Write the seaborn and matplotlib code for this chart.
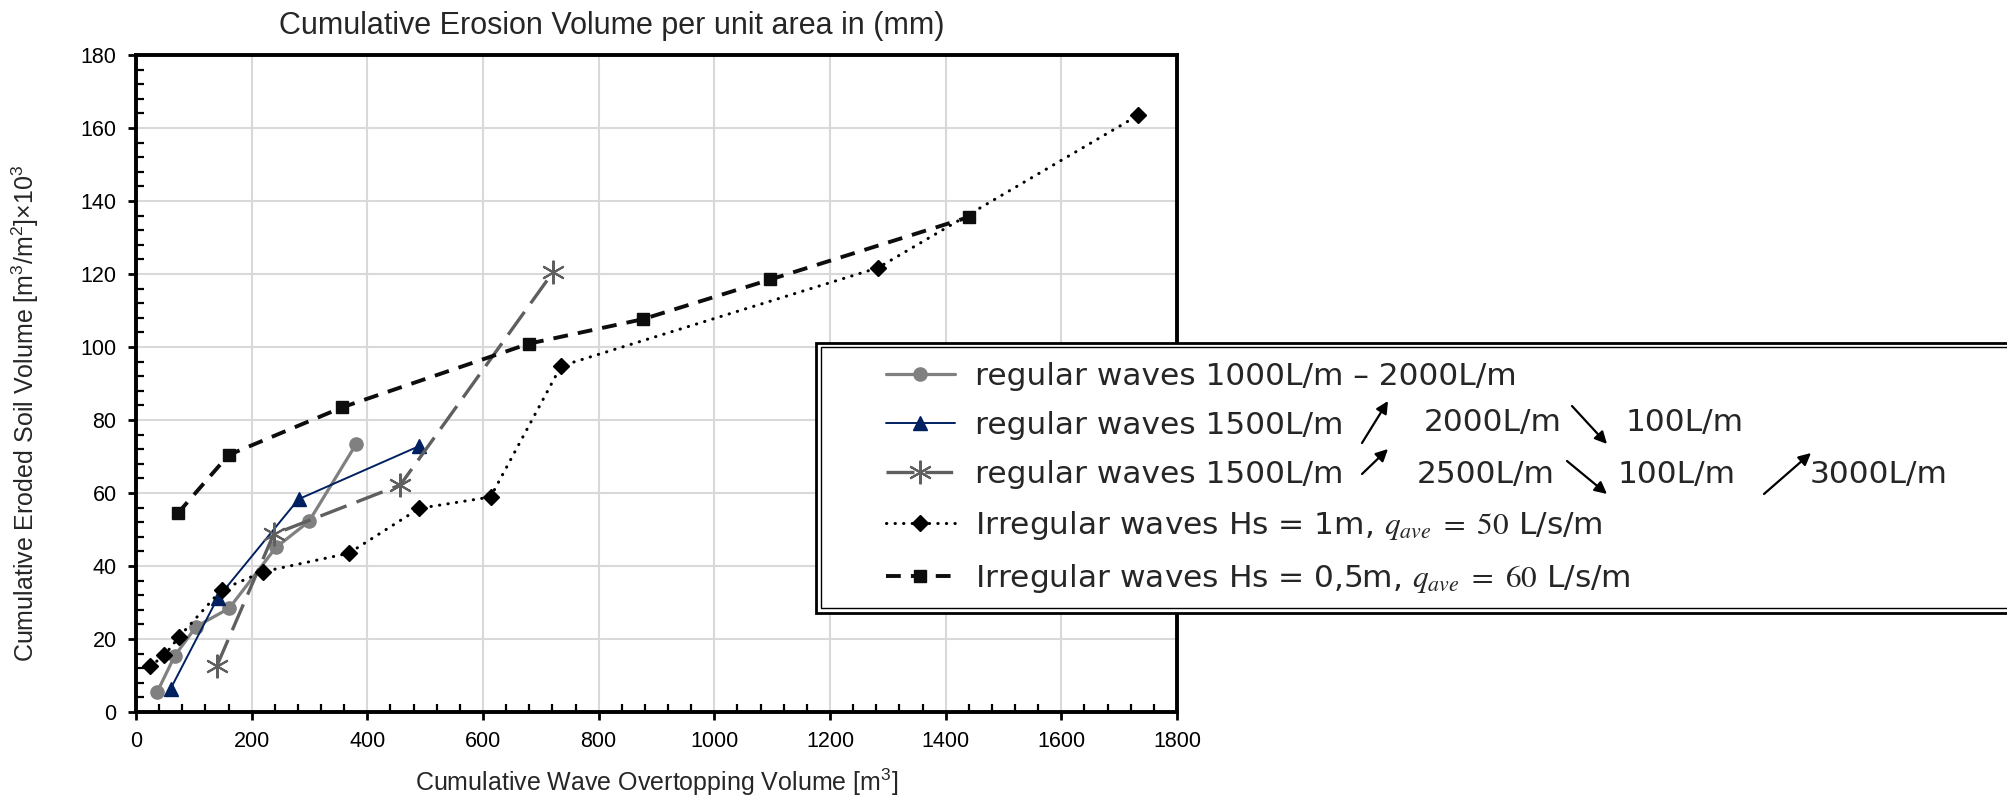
import matplotlib
matplotlib.use("Agg")
import matplotlib.pyplot as plt
import seaborn as sns
import pandas as pd
from matplotlib.patches import Rectangle, FancyArrowPatch
from matplotlib.ticker import MultipleLocator

# ---------------- data ----------------
reg1_x = [37, 67, 104, 161, 242, 299, 381]
reg1_y = [5.6, 15.4, 23.4, 28.4, 45.1, 52.2, 73.5]

reg2_x = [60, 141, 281, 489]
reg2_y = [6.4, 31.2, 58.3, 72.8]

reg3_x = [140, 238, 457, 721]
reg3_y = [12.7, 48.7, 62.2, 120.5]

irr1_x = [24, 49, 74, 148, 219, 368, 490, 613, 735, 1283, 1733]
irr1_y = [12.5, 15.5, 20.5, 33.5, 38.4, 43.5, 55.8, 58.9, 94.8, 121.7, 163.5]

irr2_x = [72, 160, 357, 679, 876, 1097, 1440]
irr2_y = [54.4, 70.4, 83.5, 100.9, 107.6, 118.5, 135.6]

labels = [
    "regular waves 1000L/m \u2013 2000L/m",
    "regular waves 1500L/m",
    "regular waves 1500L/m",
    "Irregular waves Hs = 1m, $q_{ave}\\ =\\ 50$ L/s/m",
    "Irregular waves Hs = 0,5m, $q_{ave}\\ =\\ 60$ L/s/m",
]
legend_extra = ["2000L/m", "100L/m", "2500L/m", "100L/m", "3000L/m"]
x_ticks = [0, 200, 400, 600, 800, 1000, 1200, 1400, 1600, 1800]
y_ticks = [0, 20, 40, 60, 80, 100, 120, 140, 160, 180]

# ---------------- style ----------------
sns.set_style("white")
plt.rcParams["font.family"] = ["Liberation Sans", "DejaVu Sans"]
plt.rcParams["mathtext.fontset"] = "stix"

W, H = 2008, 795
fig = plt.figure(figsize=(W / 100, H / 100), dpi=100)
ax = fig.add_axes([136 / W, 1 - 712 / H, (1177 - 136) / W, (712 - 55) / H])

series = [
    dict(x=reg1_x, y=reg1_y, color="#808080", lw=2.3, ls="-", cap="round", marker="o", ms=9.5, mew=1),
    dict(x=reg2_x, y=reg2_y, color="#002060", lw=1.4, ls="-", cap="round", marker="^", ms=10, mew=1),
    dict(x=reg3_x, y=reg3_y, color="#5f5f5f", lw=2.4, ls=(0, (8.4, 3.2)), cap="butt", marker=(6, 2, 0), ms=17, mew=1.5),
    dict(x=irr1_x, y=irr1_y, color="#000000", lw=2.2, ls=(0, (0.1, 2.7)), cap="round", marker="D", ms=8.5, mew=1),
    dict(x=irr2_x, y=irr2_y, color="#0d0d0d", lw=2.8, ls=(0, (3.8, 2.6)), cap="butt", marker="s", ms=9, mew=1),
]

handles = []
for s, lab in zip(series, labels):
    df = pd.DataFrame({"x": s["x"], "y": s["y"]})
    sns.lineplot(data=df, x="x", y="y", ax=ax, sort=False, estimator=None,
                 color=s["color"], linewidth=s["lw"], linestyle=s["ls"],
                 marker=s["marker"], markersize=s["ms"], markeredgecolor=s["color"],
                 markeredgewidth=s["mew"], markerfacecolor=s["color"], label=lab,
                 legend=False, zorder=3)
    line = ax.get_lines()[-1]
    line.set_dash_capstyle(s["cap"])
    handles.append(line)

ax.set_xlim(0, 1800)
ax.set_ylim(0, 180)
ax.set_xticks(x_ticks)
ax.set_yticks(y_ticks)
ax.xaxis.set_minor_locator(MultipleLocator(40))
ax.yaxis.set_minor_locator(MultipleLocator(4))
ax.grid(True, which="major", color="#d9d9d9", linewidth=1.5, zorder=0)
ax.set_axisbelow(True)
for sp in ax.spines.values():
    sp.set_linewidth(2.8)
    sp.set_color("black")
ax.tick_params(axis="both", which="major", direction="out", length=6, width=2, labelsize=15.5, colors="black", pad=8)
ax.tick_params(axis="both", which="minor", direction="in", length=6, width=1.6, colors="black")
ax.tick_params(axis="both", which="both", bottom=True, left=True)

ax.set_xlabel("Cumulative Wave Overtopping Volume [m$\\mathregular{^3}$]", fontsize=18, labelpad=10)
ax.set_ylabel("Cumulative Eroded Soil Volume [m$\\mathregular{^3}$/m$\\mathregular{^2}$]\u00d710$\\mathregular{^3}$", fontsize=18)
ax.yaxis.set_label_coords(-0.091, 0.455)
ax.set_title("Cumulative Erosion Volume per unit area in (mm)", fontsize=22, pad=15)
ax.title.set_x((612 - 136) / 1041)

# ---------------- legend box (double border, clipped at figure edge) ----------------
def fp(x, y):
    return (x / W, 1 - y / H)

outer = Rectangle(fp(816, 613), (2030 - 816) / W, (613 - 343) / H, transform=fig.transFigure,
                  facecolor="white", edgecolor="black", linewidth=2.0, zorder=5)
inner = Rectangle(fp(821, 608), (2030 - 821) / W, (608 - 347.5) / H, transform=fig.transFigure,
                  facecolor="white", edgecolor="black", linewidth=1.0, zorder=5)
fig.add_artist(outer)
fig.add_artist(inner)

leg_fs = 22.5
leg = fig.legend(handles, labels, loc="upper left", bbox_to_anchor=fp(886, 362),
                 frameon=False, handlelength=2.2, handletextpad=0.65,
                 labelspacing=0.64, borderaxespad=0, borderpad=0,
                 prop={"family": "DejaVu Sans", "size": leg_fs})
leg.set_zorder(6)

# extra legend pieces with arrows
piece_pos = [(1424, 423), (1626, 423), (1417, 475), (1618, 475), (1810, 475)]
for t, (px, py) in zip(legend_extra, piece_pos):
    fig.text(px / W, 1 - py / H, t, fontsize=leg_fs, family="DejaVu Sans", va="center", ha="left", zorder=7)

arrows = [((1362, 443), (1388, 401)), ((1572, 406), (1607, 444)),
          ((1362, 474), (1388, 449)), ((1567, 461), (1607, 494)),
          ((1764, 494), (1811, 453))]
for (x0, y0), (x1, y1) in arrows:
    fig.add_artist(FancyArrowPatch(
        fp(x0, y0), fp(x1, y1), transform=fig.transFigure, arrowstyle="-|>",
        mutation_scale=18, linewidth=1.6, color="black", shrinkA=0, shrinkB=0, zorder=7))

fig.savefig("out.png", dpi=100, facecolor="white")
